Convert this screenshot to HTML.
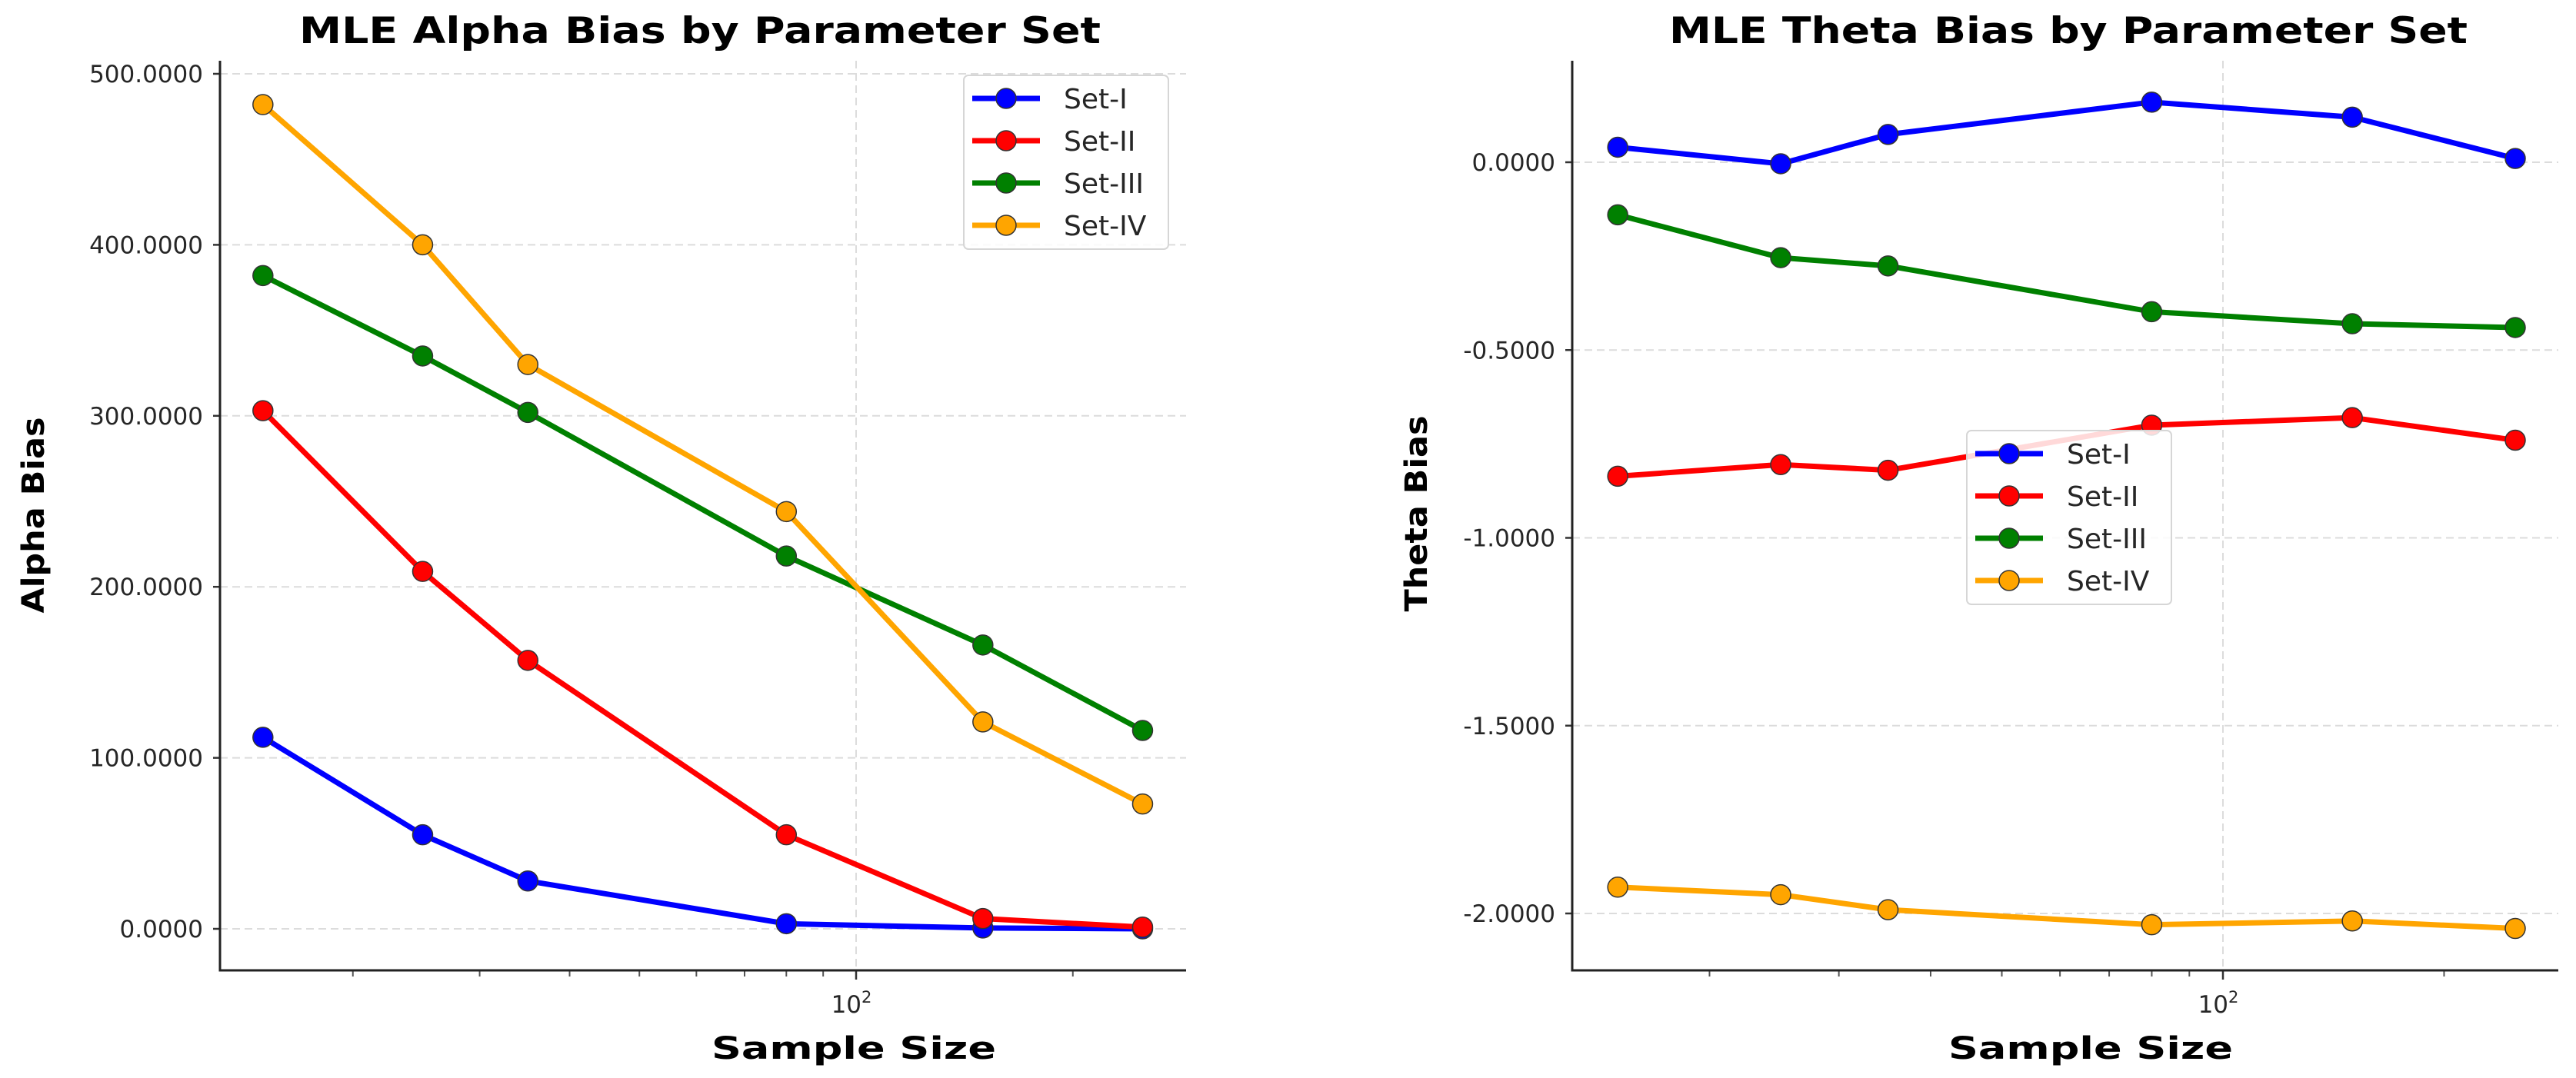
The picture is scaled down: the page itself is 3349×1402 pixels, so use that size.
<!DOCTYPE html>
<html><head><meta charset="utf-8">
<style>
html,body{margin:0;padding:0;background:#fff;}
svg{display:block;font-family:"DejaVu Sans","Liberation Sans",sans-serif;}
</style></head>
<body>
<svg id="fig" width="3349" height="1402" viewBox="0 0 3349 1402" xmlns="http://www.w3.org/2000/svg"></svg>
<script>
const sampleSizes = [15, 25, 35, 80, 150, 250];
const seriesNames = ["Set-I", "Set-II", "Set-III", "Set-IV"];
const alphaSetI = [112, 55, 28, 3, 0.5, 0];
const alphaSetII = [303, 209, 157, 55, 6, 1];
const alphaSetIII = [382, 335, 302, 218, 166, 116];
const alphaSetIV = [482, 400, 330, 244, 121, 73];
const thetaSetI = [0.04, -0.004, 0.074, 0.16, 0.12, 0.01];
const thetaSetII = [-0.836, -0.805, -0.82, -0.70, -0.68, -0.74];
const thetaSetIII = [-0.14, -0.254, -0.276, -0.398, -0.43, -0.44];
const thetaSetIV = [-1.93, -1.95, -1.99, -2.03, -2.02, -2.04];
const alphaTicks = [0, 100, 200, 300, 400, 500];
const thetaTicks = [0, -0.5, -1.0, -1.5, -2.0];
const colors = ["#0000ff", "#ff0000", "#008000", "#ffa500"];

const NS = "http://www.w3.org/2000/svg";
const svg = document.getElementById("fig");
function el(tag, attrs, parent, text) {
  const e = document.createElementNS(NS, tag);
  for (const k in attrs) e.setAttribute(k, attrs[k]);
  if (text !== undefined) e.textContent = text;
  (parent || svg).appendChild(e);
  return e;
}

function drawPanel(cfg) {
  const g = el("g", {}, svg);
  
  
  const xS = v => cfg.x100 + cfg.D * (Math.log10(v) - 2);
  const yS = v => cfg.yRef0 + (v - cfg.v0) * (cfg.yRef1 - cfg.yRef0) / (cfg.v1 - cfg.v0);
  // grid
  cfg.ticks.forEach(t => {
    const gl = el("line", {x1: cfg.L, x2: cfg.R, y1: yS(t), y2: yS(t), stroke: "#dcdcdc", "stroke-width": 2, "stroke-dasharray": "10,6"}, g);
    
    
  });
  const vg = el("line", {x1: xS(100), x2: xS(100), y1: cfg.T, y2: cfg.B, stroke: "#dcdcdc", "stroke-width": 2, "stroke-dasharray": "10,6"}, g);
  
  
  // y ticks + labels
  cfg.ticks.forEach(t => {
    el("line", {x1: cfg.L - 9, x2: cfg.L, y1: yS(t), y2: yS(t), stroke: "#333", "stroke-width": 2.5}, g);
    const tl = el("text", {x: cfg.L - 22, y: yS(t) + 11, "text-anchor": "end", "font-size": 31, fill: "#262626"}, g, t.toFixed(4));
    
    
  });
  // minor x ticks
  [20,30,40,50,60,70,80,90,200].forEach(m => {
    const xx = xS(m);
    if (xx > cfg.L && xx < cfg.R) el("line", {x1: xx, x2: xx, y1: cfg.B, y2: cfg.B + 8, stroke: "#555", "stroke-width": 2}, g);
  });
  el("line", {x1: xS(100), x2: xS(100), y1: cfg.B, y2: cfg.B + 12, stroke: "#333", "stroke-width": 2.5}, g);
  const xl = el("text", {x: xS(100) - 6, y: cfg.B + 55, "text-anchor": "middle", "font-size": 31, fill: "#262626"}, g);
  
  
  xl.appendChild(document.createTextNode("10"));
  const sup = el("tspan", {dy: -13, "font-size": 21}, xl, "2");
  // spines
  el("line", {x1: cfg.L, x2: cfg.L, y1: cfg.T, y2: cfg.B + 1.5, stroke: "#222", "stroke-width": 3}, g);
  el("line", {x1: cfg.L - 1.5, x2: cfg.R, y1: cfg.B, y2: cfg.B, stroke: "#222", "stroke-width": 3}, g);
  // series
  cfg.series.forEach((vals, si) => {
    const pts = vals.map((v, i) => xS(sampleSizes[i]) + "," + yS(v)).join(" ");
    const pl = el("polyline", {points: pts, fill: "none", stroke: colors[si], "stroke-width": 7, "stroke-linejoin": "round"}, g);
    
    
  });
  cfg.series.forEach((vals, si) => {
    vals.forEach((v, i) => {
      const c = el("circle", {cx: xS(sampleSizes[i]), cy: yS(v), r: 13, fill: colors[si], stroke: "#333", "stroke-width": 1.5}, g);
      
      
    });
  });
  // titles
  const tt = el("text", {x: cfg.titleX, y: 56, "text-anchor": "middle", "font-size": 47, "font-weight": "bold", fill: "#000", textLength: cfg.titleW, lengthAdjust: "spacingAndGlyphs"}, g, cfg.title);
  
  
  const xt = el("text", {x: cfg.xtX, y: 1377, "text-anchor": "middle", "font-size": 40, "font-weight": "bold", fill: "#000", textLength: 370, lengthAdjust: "spacingAndGlyphs"}, g, "Sample Size");
  
  
  const yt = el("text", {x: 0, y: 0, "text-anchor": "middle", "font-size": 40, "font-weight": "bold", fill: "#000", transform: "translate(" + cfg.ytX + "," + cfg.ytY + ") rotate(-90)", textLength: 255, lengthAdjust: "spacingAndGlyphs"}, g, cfg.ytitle);
  
  
  // legend
  const lg = el("g", {}, g);
  
  
  el("rect", {x: cfg.lx, y: cfg.ly, width: 266, height: 226, rx: 6, fill: "#fff", "fill-opacity": 0.85, stroke: "#d6d6d6", "stroke-width": 2}, lg);
  seriesNames.forEach((n, i) => {
    const ey = cfg.ly + 30 + i * 55;
    const le = el("g", {}, lg);
    
    
    el("line", {x1: cfg.lx + 11, x2: cfg.lx + 99, y1: ey, y2: ey, stroke: colors[i], "stroke-width": 7}, le);
    el("circle", {cx: cfg.lx + 55, cy: ey, r: 13, fill: colors[i], stroke: "#333", "stroke-width": 1.5}, le);
    el("text", {x: cfg.lx + 130, y: ey + 13, "font-size": 36, fill: "#262626"}, le, n);
  });
}

drawPanel({
  name: "alpha-bias-chart", L: 286, R: 1542, T: 79, B: 1262,
  x100: 1113, D: 936, yRef0: 1208, v0: 0, yRef1: 96, v1: 500,
  ticks: alphaTicks, series: [alphaSetI, alphaSetII, alphaSetIII, alphaSetIV],
  title: "MLE Alpha Bias by Parameter Set", titleX: 910, titleW: 1042,
  xtX: 1110, ytX: 57, ytY: 670, ytitle: "Alpha Bias", lx: 1253, ly: 98
});
drawPanel({
  name: "theta-bias-chart", L: 2044, R: 3326, T: 79, B: 1262,
  x100: 2890, D: 955, yRef0: 211, v0: 0, yRef1: 1188, v1: -2,
  ticks: thetaTicks, series: [thetaSetI, thetaSetII, thetaSetIII, thetaSetIV],
  title: "MLE Theta Bias by Parameter Set", titleX: 2689, titleW: 1038,
  xtX: 2718, ytX: 1855, ytY: 668, ytitle: "Theta Bias", lx: 2557, ly: 560
});
</script>
</body></html>
